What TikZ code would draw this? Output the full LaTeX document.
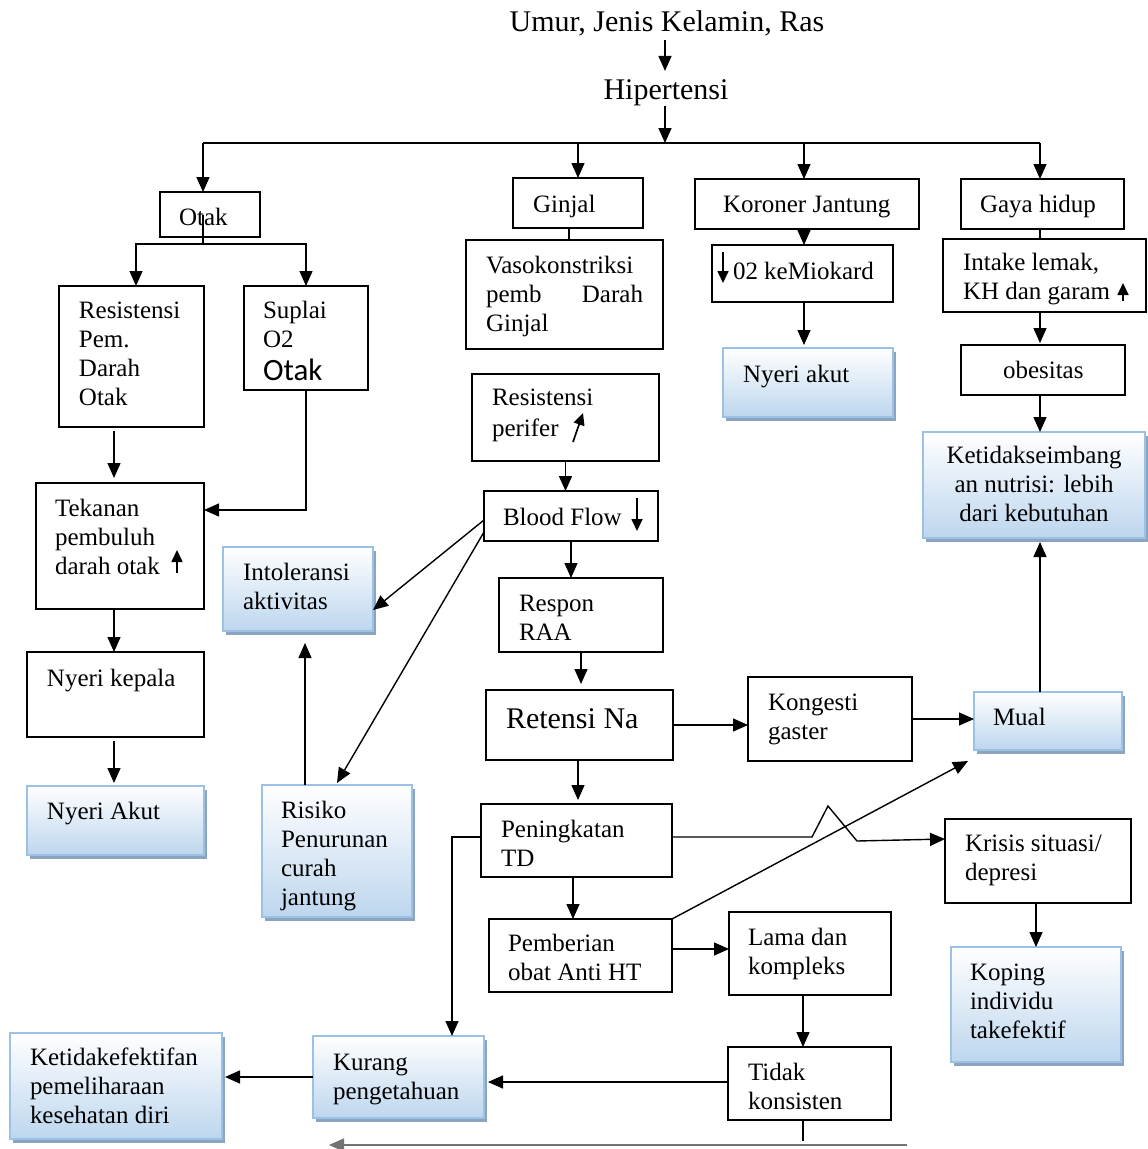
\documentclass[tikz,border=0pt]{standalone}
\usepackage{fontspec}
\setmainfont{Liberation Serif}
\newfontfamily\calib{Carlito}
\usetikzlibrary{arrows.meta,calc,shadows}
\definecolor{bfill}{RGB}{189,214,238}
\definecolor{bdr}{RGB}{155,194,230}
\definecolor{shd}{RGB}{140,164,190}
\newcommand\fs{\fontsize{25}{29}\selectfont}
\newcommand\bt[5]{\parbox[t][#1][t]{#2}{\raggedright\leftskip=#3\relax\rule{0pt}{#4}#5}}
\newcommand\bcx[4]{\parbox[t][#1][t]{#2}{\centering\rule{0pt}{#3}#4}}
\tikzset{
  pb/.style={draw, line width=1.6pt, inner sep=0pt, outer sep=0pt, anchor=north west, font=\fs},
  bb/.style={pb, draw=bdr, line width=1.4pt, top color=white, bottom color=bfill,
    drop shadow={shadow xshift=3pt, shadow yshift=-4pt, fill=shd, opacity=1}},
  ln/.style={line width=1.4pt},
  arr/.style={ln, -{Triangle[length=15pt,width=13pt]}},
  garr/.style={line width=1.7pt, -{Triangle[length=12pt,width=11pt]}},
  ttl/.style={anchor=base, inner sep=0pt, font=\fontsize{30}{34}\selectfont}
}
\begin{document}
\begin{tikzpicture}[x=1pt,y=-1pt]
\useasboundingbox (0,0) rectangle (1148,1149);
\fill[white] (0,0) rectangle (1148,1149);

% titles
\node[ttl] (umur) at (667,31) {Umur, Jenis Kelamin, Ras};
\node[ttl] (hip) at (666,99) {Hipertensi};

% plain boxes
\node[pb] (otak) at (160,192) {\bt{45pt}{100pt}{19pt}{33pt}{Otak}};
\node[pb] (ginjal) at (513,178) {\bt{50pt}{130pt}{20pt}{34pt}{Ginjal}};
\node[pb] (kor) at (695,179) {\bt{50pt}{224pt}{28pt}{33pt}{Koroner Jantung}};
\node[pb] (gaya) at (961,179) {\bt{50pt}{163pt}{19pt}{33pt}{Gaya hidup}};
\node[pb] (resA) at (59,286) {\bt{141pt}{145pt}{20pt}{32pt}{Resistensi\\Pem.\\Darah\\Otak}};
\node[pb] (sup) at (244,286) {\bt{104pt}{124pt}{19pt}{32pt}{Suplai\\O2\\[4pt]{\calib\fontsize{31}{33}\selectfont Otak}}};
\node[pb] (vaso) at (466,240) {\bt{109pt}{197pt}{20pt}{33pt}{Vasokonstriksi\\\makebox[157pt][s]{pemb Darah}\\Ginjal}};
\node[pb] (o2) at (712,245) {\bt{57pt}{181pt}{21pt}{34pt}{02 keMiokard}};
\node[pb] (intake) at (943,239) {\bt{73pt}{203pt}{20pt}{31pt}{Intake lemak,\\KH dan garam}};
\node[pb] (obes) at (961,345) {\bt{50pt}{164pt}{42pt}{33pt}{obesitas}};
\node[pb] (rp) at (472,374) {\bt{87pt}{187pt}{20pt}{31pt}{Resistensi\\[2pt]perifer}};
\node[pb] (tek) at (36,483) {\bt{126pt}{168pt}{19pt}{33pt}{Tekanan\\pembuluh\\darah otak}};
\node[pb] (nk) at (27,652) {\bt{85pt}{177pt}{20pt}{34pt}{Nyeri kepala}};
\node[pb] (bf) at (484,491) {\bt{50pt}{174pt}{19pt}{34pt}{Blood Flow}};
\node[pb] (resp) at (499,578) {\bt{74pt}{164pt}{20pt}{33pt}{Respon\\RAA}};
\node[pb, font=\fontsize{30}{34}\selectfont] (ret) at (486,690) {\bt{70pt}{187pt}{20pt}{38pt}{Retensi Na}};
\node[pb] (kong) at (748,677) {\bt{84pt}{164pt}{20pt}{33pt}{Kongesti\\gaster}};
\node[pb] (pen) at (481,804) {\bt{73pt}{191pt}{20pt}{33pt}{Peningkatan\\TD}};
\node[pb] (kris) at (945,819) {\bt{84pt}{186pt}{20pt}{32pt}{Krisis situasi/\\depresi}};
\node[pb] (pem) at (489,919) {\bt{73pt}{183pt}{19pt}{32pt}{Pemberian\\obat Anti HT}};
\node[pb] (lama) at (729,912) {\bt{83pt}{162pt}{19pt}{33pt}{Lama dan\\kompleks}};
\node[pb] (tidak) at (728,1047) {\bt{73pt}{163pt}{20pt}{33pt}{Tidak\\konsisten}};

% blue boxes
\node[bb] (nakR) at (723,348) {\bt{69pt}{170pt}{20pt}{34pt}{Nyeri akut}};
\node[bb] (kseim) at (923,432) {\bcx{106pt}{222pt}{31pt}{Ketidakseimbang\\an nutrisi: lebih\\dari kebutuhan}};
\node[bb] (intol) at (223,547) {\bt{84pt}{150pt}{20pt}{33pt}{Intoleransi\\aktivitas}};
\node[bb] (naL) at (27,786) {\bt{69pt}{177pt}{20pt}{33pt}{Nyeri Akut}};
\node[bb] (ris) at (262,785) {\bt{132pt}{150pt}{19pt}{33pt}{Risiko\\Penurunan\\curah\\jantung}};
\node[bb] (mual) at (974,692) {\bt{58pt}{148pt}{19pt}{33pt}{Mual}};
\node[bb] (kop) at (951,947) {\bt{115pt}{170pt}{19pt}{33pt}{Koping\\individu\\takefektif}};
\node[bb] (kur) at (313,1036) {\bt{82pt}{171pt}{20pt}{34pt}{Kurang\\pengetahuan}};
\node[bb] (ketid) at (10,1033) {\bt{106pt}{212pt}{20pt}{32pt}{Ketidakefektifan\\pemeliharaan\\kesehatan diri}};

% helper coordinates
\coordinate (br) at (665,143);
\coordinate (bl) at (203,143);
\coordinate (ob) at (203,244);
\coordinate (xA) at (114,0);
\coordinate (xB) at (305,0);
\coordinate (xG) at (569,0);
\coordinate (xR) at (578,0);
\coordinate (xP) at (573,0);
\coordinate (xC) at (804,0);
\coordinate (xK) at (1040,0);
\coordinate (xL) at (803,0);
\coordinate (xS) at (1036,0);
\coordinate (tb) at (803,1141);
\coordinate (bR) at (907,1145);
\coordinate (bL) at (329,1145);

% top
\draw[arr, shorten <=4pt, shorten >=8pt] (umur.south -| br) -- (hip.north -| br);
\draw[arr] (hip.south -| br) -- (br);
\draw[ln] (bl) -- (xK |- br);
\draw[arr] (bl) -- (bl |- otak.north);
\draw[arr] (ginjal.north |- br) -- (ginjal.north);
\draw[arr] (xC |- br) -- (xC |- kor.north);
\draw[arr] (xK |- br) -- (xK |- gaya.north);

% otak branch
\draw[ln] (otak.center -| ob) -- (ob);
\draw[arr] (ob) -| ($(resA.north west)+(77,0)$);
\draw[arr] (ob) -| (sup.north);
\draw[arr, shorten <=4pt, shorten >=5pt] (xA |- resA.south) -- (xA |- tek.north);
\draw[arr] (sup.south) |- ($(tek.north east)+(0,27)$);
\draw[arr] (xA |- tek.south) -- (xA |- nk.north);
\draw[arr, shorten <=4pt, shorten >=3pt] (xA |- nk.south) -- (xA |- naL.north);
\draw[arr, shorten >=12pt] (xB |- ris.north) -- (xB |- intol.south);
\draw[arr] ($(bf.north west)+(0,29)$) -- ($(intol.north east)+(0,63)$);
\draw[arr] ($(bf.north west)+(0,41)$) -- ($(ris.north west)+(75,-2)$);

% ginjal branch
\draw[ln] (xG |- ginjal.south) -- (xG |- vaso.north);
\draw[arr] (rp.south) -- (rp.south |- bf.north);
\draw[arr] (bf.south) -- (bf.south |- resp.north);
\draw[arr, shorten >=6pt] (resp.south) -- (resp.south |- ret.north);
\draw[arr] (ret.east) -- (ret.east -| kong.west);
\draw[arr] (kong.east) -- (kong.east -| mual.west);
\draw[arr, shorten >=4pt] (xK |- mual.north) -- (xK |- kseim.south);
\draw[arr, shorten >=4pt] (xR |- ret.south) -- (xR |- pen.north);
\draw[arr] (xP |- pen.south) -- (xP |- pem.north);
\coordinate (pl) at ($(pen.north west)+(0,33)$);
\draw[arr] (pl) -| ($(kur.north west)+(139,0)$);
\coordinate (pr) at ($(pen.north east)+(0,33)$);
\draw[arr] (pr) -- ++(140,0) -- ++(16,-31) -- ++(29,35) -- ($(kris.north west)+(0,20)$);
\draw[arr] (pem.north east) -- ($(mual.south west)+(-6,11)$);
\coordinate (pm) at ($(pem.north east)+(0,30)$);
\draw[arr] (pm) -- (pm -| lama.west);
\draw[arr] (xL |- lama.south) -- (xL |- tidak.north);
\coordinate (tk) at ($(tidak.north west)+(0,35)$);
\draw[arr, shorten >=4pt] (tk) -- (tk -| kur.east);
\draw[arr, shorten >=3pt] (kur.west) -- (kur.west -| ketid.east);
\draw[ln] (xL |- tidak.south) -- (tb);
\draw[arr, draw=black!55] (bR) -- (bL);
\draw[arr] (xS |- kris.south) -- (xS |- kop.north);

% koroner branch
\draw[arr] (xC |- kor.south) -- (xC |- o2.north);
\draw[arr, shorten >=3pt] (xC |- o2.south) -- (xC |- nakR.north);

% gaya hidup branch
\draw[ln] (xK |- gaya.south) -- (xK |- intake.north);
\draw[arr, shorten >=2pt] (xK |- intake.south) -- (xK |- obes.north);
\draw[arr] (xK |- obes.south) -- (xK |- kseim.north);

% small arrow glyphs inside boxes
\draw[garr] ($(o2.north west)+(11,7)$) -- ($(o2.north west)+(11,38)$);
\draw[garr] ($(intake.north west)+(180,62)$) -- ($(intake.north west)+(180,44)$);
\draw[garr] ($(rp.north west)+(101,68)$) -- ($(rp.north west)+(111,39)$);
\draw[garr] ($(tek.north west)+(141,90)$) -- ($(tek.north west)+(141,67)$);
\draw[garr] ($(bf.north west)+(153,7)$) -- ($(bf.north west)+(153,40)$);
\end{tikzpicture}
\end{document}
